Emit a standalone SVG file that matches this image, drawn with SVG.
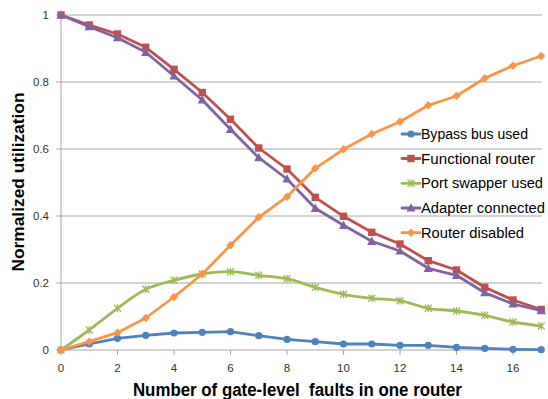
<svg xmlns="http://www.w3.org/2000/svg" width="548" height="399" viewBox="0 0 548 399">
<style>
.grid{stroke:#a6a6a6;stroke-width:1;fill:none}
.tick{font-family:"Liberation Sans",Arial,sans-serif;font-size:11.5px;fill:#333}
.ylab{text-anchor:end}
.xlab{text-anchor:middle}
.title{font-family:"Liberation Sans",Arial,sans-serif;font-weight:bold;fill:#000}
.leg{font-family:"Liberation Sans",Arial,sans-serif;font-size:14px;fill:#000}
.s{fill:none;stroke-width:2.8;stroke-linejoin:round;stroke-linecap:round}
.blue{stroke:#4f81bd}
.red{stroke:#c0504d}
.green{stroke:#9bbb59}
.purple{stroke:#8064a2}
.orange{stroke:#f79646}
</style>
<defs>
<marker id="mBlue" markerUnits="userSpaceOnUse" markerWidth="10" markerHeight="10" refX="5" refY="5" orient="0" overflow="visible"><circle cx="5" cy="5" r="3.6" fill="#4f81bd"/></marker>
<marker id="mRed" markerUnits="userSpaceOnUse" markerWidth="10" markerHeight="10" refX="5" refY="5" orient="0" overflow="visible"><rect x="1.3" y="1.3" width="7.4" height="7.4" fill="#c0504d"/></marker>
<marker id="mGreen" markerUnits="userSpaceOnUse" markerWidth="10" markerHeight="10" refX="5" refY="5" orient="0" overflow="visible"><path d="M1.5 1.5L8.5 8.5M1.5 8.5L8.5 1.5M5 1L5 9" stroke="#9bbb59" stroke-width="1.3" fill="none"/></marker>
<marker id="mPurple" markerUnits="userSpaceOnUse" markerWidth="10" markerHeight="10" refX="5" refY="5" orient="0" overflow="visible"><polygon points="5,0.3 9.6,8.6 0.4,8.6" fill="#8064a2"/></marker>
<marker id="mOrange" markerUnits="userSpaceOnUse" markerWidth="10" markerHeight="10" refX="5" refY="5" orient="0" overflow="visible"><polygon points="5,0.8 9.2,5 5,9.2 0.8,5" fill="#f79646"/></marker>
</defs>
<rect width="548" height="399" fill="#fff"/>
<g id="axes">
<path class="grid" d="M61 15H542M61 82H542M61 149H542M61 216H542M61 283H542"/>
<path class="grid" d="M61 15V350H542"/>
<path class="grid" d="M56 15H61M56 82H61M56 149H61M56 216H61M56 283H61M56 350H61"/>
<path class="grid" d="M61 350V355M117.5 350V355M174 350V355M230.5 350V355M287 350V355M343.5 350V355M400 350V355M456.5 350V355M513 350V355"/>
<g class="tick ylab">
<text x="49" y="19">1</text>
<text x="49" y="86">0.8</text>
<text x="49" y="153">0.6</text>
<text x="49" y="220">0.4</text>
<text x="49" y="287">0.2</text>
<text x="49" y="354">0</text>
</g>
<g class="tick xlab">
<text x="61" y="372">0</text>
<text x="117.5" y="372">2</text>
<text x="174" y="372">4</text>
<text x="230.5" y="372">6</text>
<text x="287" y="372">8</text>
<text x="343.5" y="372">10</text>
<text x="400" y="372">12</text>
<text x="456.5" y="372">14</text>
<text x="513" y="372">16</text>
</g>
<text class="title" x="297.4" y="396" font-size="18" text-anchor="middle" textLength="329" lengthAdjust="spacingAndGlyphs" xml:space="preserve">Number of gate-level  faults in one router</text>
<text class="title" transform="translate(24 182) rotate(-90)" x="0" y="0" font-size="17" text-anchor="middle" textLength="179" lengthAdjust="spacingAndGlyphs">Normalized utilization</text>
</g>
<g id="connectors">
<polyline id="bypass" class="s blue" marker-start="url(#mBlue)" marker-mid="url(#mBlue)" marker-end="url(#mBlue)" points="61,350 89.25,344 117.5,338.3 145.75,335.3 174,333 202.25,332.3 230.5,331.7 258.75,335.7 287,339.3 315.25,341.7 343.5,344 371.75,344 400,345.3 428.25,345.3 456.5,347.3 484.75,348.3 513,349.3 541.25,349.7"/>
<polyline id="functional" class="s red" marker-start="url(#mRed)" marker-mid="url(#mRed)" marker-end="url(#mRed)" points="61,15 89.25,25 117.5,34 145.75,47.3 174,69.3 202.25,92.5 230.5,119.3 258.75,148 287,169 315.25,197.3 343.5,216.3 371.75,232.3 400,244 428.25,260.7 456.5,270 484.75,287.3 513,300 541.25,309.5"/>
<path id="swapper" class="s green" marker-start="url(#mGreen)" marker-mid="url(#mGreen)" marker-end="url(#mGreen)" d="M61 350C65.71 346.67 79.83 336.95 89.25 330C98.67 323.05 108.08 315.08 117.5 308.3C126.92 301.52 136.33 293.97 145.75 289.3C155.17 284.63 164.58 282.85 174 280.3C183.42 277.75 192.83 275.43 202.25 274C211.67 272.57 221.08 271.48 230.5 271.7C239.92 271.92 249.33 274.13 258.75 275.3C268.17 276.47 277.58 276.7 287 278.7C296.42 280.7 305.83 284.7 315.25 287.3C324.67 289.9 334.08 292.47 343.5 294.3C352.92 296.13 362.33 297.23 371.75 298.3C381.17 299.37 390.58 299.03 400 300.7C409.42 302.37 418.83 306.58 428.25 308.3C437.67 310.02 447.08 309.83 456.5 311C465.92 312.17 475.33 313.47 484.75 315.3C494.17 317.13 503.58 320.22 513 322C522.42 323.78 536.54 325.33 541.25 326"/>
<polyline id="adapter" class="s purple" marker-start="url(#mPurple)" marker-mid="url(#mPurple)" marker-end="url(#mPurple)" points="61,15 89.25,26.7 117.5,37.7 145.75,52.3 174,76 202.25,100 230.5,129.3 258.75,157.7 287,179 315.25,208.3 343.5,225.3 371.75,241.3 400,251 428.25,268.3 456.5,275.3 484.75,292.7 513,304 541.25,310.7"/>
<polyline id="disabled" class="s orange" stroke-width="2.2" marker-start="url(#mOrange)" marker-mid="url(#mOrange)" marker-end="url(#mOrange)" points="61,350 89.25,341.7 117.5,332.7 145.75,318 174,297 202.25,274 230.5,245.3 258.75,217.3 287,196.7 315.25,168.3 343.5,149.3 371.75,134 400,121.7 428.25,105.3 456.5,96 484.75,78.3 513,65.7 541.25,56"/>
</g>
<g id="legend">
<g id="leg-bypass"><path class="s blue" d="M402 134H420" marker-mid="url(#mBlue)"/><circle cx="411" cy="134" r="3.6" fill="#4f81bd"/><text class="leg" x="421" y="139" textLength="107" lengthAdjust="spacingAndGlyphs">Bypass bus used</text></g>
<g id="leg-functional"><path class="s red" d="M402 158.5H420"/><rect x="407.3" y="154.8" width="7.4" height="7.4" fill="#c0504d"/><text class="leg" x="421" y="163.5" textLength="114" lengthAdjust="spacingAndGlyphs">Functional router</text></g>
<g id="leg-swapper"><path class="s green" d="M402 183.3H420"/><path d="M407.5 179.8L414.5 186.8M407.5 186.8L414.5 179.8M411 179.3V187.3" stroke="#9bbb59" stroke-width="1.3"/><text class="leg" x="421" y="188.3" textLength="122" lengthAdjust="spacingAndGlyphs">Port swapper used</text></g>
<g id="leg-adapter"><path class="s purple" d="M402 208H420"/><polygon points="411,203.3 415.6,211.6 406.4,211.6" fill="#8064a2"/><text class="leg" x="421" y="213" textLength="124" lengthAdjust="spacingAndGlyphs">Adapter connected</text></g>
<g id="leg-disabled"><path class="s orange" stroke-width="2.2" d="M402 232.7H420"/><polygon points="411,228.5 415.2,232.7 411,236.9 406.8,232.7" fill="#f79646"/><text class="leg" x="421" y="237.7" textLength="103" lengthAdjust="spacingAndGlyphs">Router disabled</text></g>
</g>
</svg>
